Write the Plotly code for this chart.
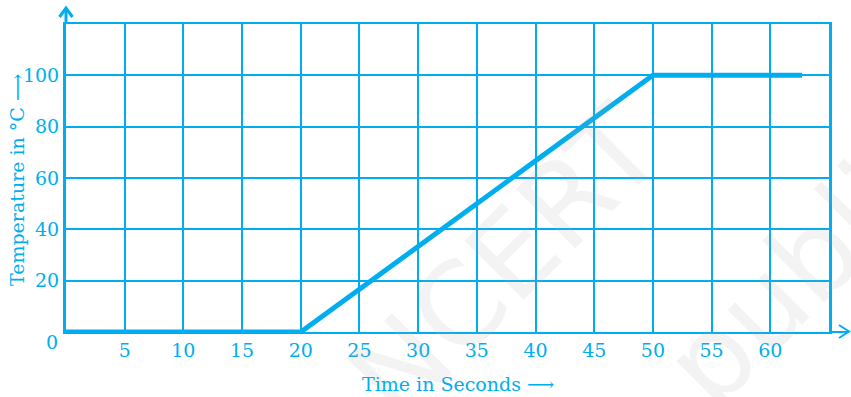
import plotly.graph_objects as go

# Data
time_s = [0, 20, 50, 62.7]
temp_c = [0, 0, 100, 100]
x_ticks = [5, 10, 15, 20, 25, 30, 35, 40, 45, 50, 55, 60]
y_ticks = [20, 40, 60, 80, 100]

BLUE = "#00AEEF"
FONT = "DejaVu Serif"
FS = 19

W, H = 851, 397
L, R, T, B = 66, 22, 24, 65
pw, ph = W - L - R, H - T - B

def px(p):
    return (p - L) / pw

def py(q):
    return (H - B - q) / ph

fig = go.Figure()
fig.add_trace(go.Scatter(x=time_s, y=temp_c, mode="lines",
                         line=dict(color=BLUE, width=5), cliponaxis=False,
                         hoverinfo="skip", showlegend=False))

fig.update_layout(
    width=W, height=H,
    margin=dict(l=L, r=R, t=T, b=B, autoexpand=False),
    paper_bgcolor="white", plot_bgcolor="white",
    font=dict(family=FONT, color=BLUE, size=FS),
    xaxis=dict(range=[0, 65], tickvals=x_ticks, ticktext=[str(v) for v in x_ticks],
               showgrid=True, gridcolor=BLUE, gridwidth=2, zeroline=False, automargin=False,
               showline=True, linecolor=BLUE, linewidth=2, mirror=True,
               ticks="", ticklabelstandoff=0, tickfont=dict(size=FS, color=BLUE)),
    yaxis=dict(range=[0, 120], tickvals=y_ticks, ticktext=[str(v) for v in y_ticks],
               showgrid=True, gridcolor=BLUE, gridwidth=2, zeroline=False, automargin=False,
               showline=True, linecolor=BLUE, linewidth=3, mirror=True,
               ticks="", ticklabelstandoff=0, tickfont=dict(size=FS, color=BLUE)),
)

shapes = []
# x axis extension with arrow
shapes.append(dict(type="line", xref="paper", yref="paper", x0=1, x1=px(849), y0=0, y1=0,
                   line=dict(color=BLUE, width=2)))
shapes.append(dict(type="path", xref="paper", yref="paper",
                   path=f"M {px(839)} {py(325)} L {px(849)} {py(331.5)} L {px(839)} {py(338)}",
                   line=dict(color=BLUE, width=2)))
# y axis extension with arrow
shapes.append(dict(type="line", xref="paper", yref="paper", x0=0, x1=0, y0=1, y1=py(8),
                   line=dict(color=BLUE, width=3)))
shapes.append(dict(type="path", xref="paper", yref="paper",
                   path=f"M {px(59.5)} {py(17)} L {px(66)} {py(8)} L {px(72.5)} {py(17)}",
                   line=dict(color=BLUE, width=3)))
fig.update_layout(shapes=shapes)

WM = "rgba(160,160,160,0.13)"
C = dict(xanchor="center", yanchor="middle", showarrow=False, xref="paper", yref="paper")
ann = []
# watermark
ann.append(dict(C, x=px(505), y=py(262), text="NCERT",
                textangle=-45, font=dict(family="DejaVu Sans", size=115, color=WM)))
ann.append(dict(C, x=px(785), y=py(285), text="publi",
                textangle=-45, font=dict(family="DejaVu Sans", size=115, color=WM)))
# origin label
ann.append(dict(C, x=px(52), y=py(342), text="0", font=dict(size=FS, color=BLUE)))
# axis titles
ann.append(dict(C, x=px(458), y=py(384), text="Time in Seconds ⟶",
                font=dict(size=19, color=BLUE)))
ann.append(dict(C, x=px(17), y=py(180), text="Temperature in °C ⟶",
                textangle=-90, font=dict(size=19, color=BLUE)))
fig.update_layout(annotations=ann)

fig.write_html("out.html", config={"displayModeBar": False},
               post_script="document.body.style.margin='0';document.body.style.overflow='hidden';")
